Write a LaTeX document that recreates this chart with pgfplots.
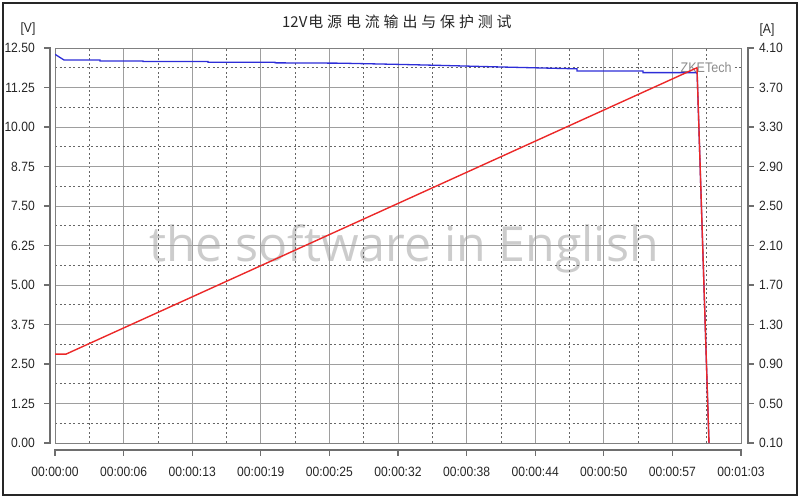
\documentclass[border=0pt]{standalone}
\usepackage{pgfplots}
\pgfplotsset{compat=1.18}
\usepackage{fontspec}
\setmainfont{Liberation Sans}
\newfontfamily\tickfont{Liberation Sans}[FakeStretch=0.9]
\newfontfamily\cjk{Noto Sans CJK SC}[LetterSpace=26]
\newfontfamily\cjkplain{Noto Sans CJK SC}
\newfontfamily\wm{Open Sans}
\definecolor{vblue}{RGB}{45,45,215}
\definecolor{ired}{RGB}{235,40,40}
\definecolor{axgray}{RGB}{110,110,110}
\begin{document}
\begin{tikzpicture}
\useasboundingbox (0,0) rectangle (800bp,498bp);
\draw[line width=2bp, black!85] (3bp,3bp) rectangle (797bp,495bp);
% watermark
\node[text=black!20, font=\wm\fontsize{48.5}{50}\selectfont, anchor=base, inner sep=0pt] at (404bp,236bp) {the software in English};
% title and unit labels
\node[anchor=west, text=black!85, inner sep=0pt] at (282bp,476.5bp) {{\cjkplain\fontsize{15}{15}\selectfont 12V}\hspace{1bp}{\cjk\fontsize{15}{15}\selectfont 电源电流输出与保护测试}};
\node[font=\tickfont\fontsize{13.5}{14}\selectfont, text=black!85, inner sep=0pt] at (28bp,469bp) {[V]};
\node[font=\tickfont\fontsize{13.5}{14}\selectfont, text=black!85, inner sep=0pt] at (767bp,468bp) {[A]};
\begin{axis}[
  at={(55bp,55bp)}, anchor=south west,
  width=686bp, height=395bp, scale only axis,
  xmin=0, xmax=63, ymin=0, ymax=12.5,
  xtick={0,6.3,12.6,18.9,25.2,31.5,37.8,44.1,50.4,56.7,63},
  xticklabels={00:00:00,00:00:06,00:00:13,00:00:19,00:00:25,00:00:32,00:00:38,00:00:44,00:00:50,00:00:57,00:01:03},
  ytick={0,1.25,2.5,3.75,5,6.25,7.5,8.75,10,11.25,12.5},
  yticklabels={0.00,1.25,2.50,3.75,5.00,6.25,7.50,8.75,10.00,11.25,12.50},
  minor xtick={3.15,9.45,15.75,22.05,28.35,34.65,40.95,47.25,53.55,59.85},
  minor ytick={0.625,1.875,3.125,4.375,5.625,6.875,8.125,9.375,10.625,11.875},
  grid=both,
  major grid style={draw=black!38, line width=0.9bp},
  minor grid style={draw=black!60, line width=0.8bp, dash pattern=on 2bp off 2.5bp},
  major tick length=0pt, minor tick length=0pt,
  axis line style={draw=black!50, line width=0.9bp},
  tick label style={font=\tickfont\fontsize{13.5}{14}\selectfont, text=black!85, inner sep=0pt},
  xticklabel style={yshift=-24bp},
  yticklabel style={xshift=-20bp},
]
\node[fill=white, inner sep=1bp, text=black!45, font=\tickfont\fontsize{14}{14}\selectfont] at (axis cs:59.8,11.87) {ZKETech};
\addplot[vblue, line width=1.3bp] coordinates {
(0,12.30) (0.83,12.12) (4.13,12.12) (4.13,12.09) (8.08,12.09) (8.08,12.07)
(14.05,12.07) (14.05,12.05) (20.20,12.05) (20.20,12.03) (26.17,12.02)
(31.69,11.98) (35.36,11.95) (40.87,11.90) (47.94,11.84) (47.94,11.77)
(54.00,11.77) (54.00,11.72) (58.87,11.72) (58.97,11.70) (60.06,0.00)
};
\end{axis}
\begin{axis}[
  at={(55bp,55bp)}, anchor=south west,
  width=686bp, height=395bp, scale only axis,
  xmin=0, xmax=63, ymin=0.1, ymax=4.1,
  axis x line=none, axis y line*=right,
  axis line style={draw=none},
  xtick=\empty,
  ytick={0.1,0.5,0.9,1.3,1.7,2.1,2.5,2.9,3.3,3.7,4.1},
  yticklabels={0.10,0.50,0.90,1.30,1.70,2.10,2.50,2.90,3.30,3.70,4.10},
  major tick length=0pt,
  tick label style={font=\tickfont\fontsize{13.5}{14}\selectfont, text=black!85, inner sep=0pt},
  yticklabel style={xshift=18bp},
]
\addplot[ired, line width=1.4bp] coordinates {
(0,1.00) (1.01,1.00) (58.96,3.90) (60.06,0.10)
};
\end{axis}
% separate axis lines with outward ticks
\draw[axgray, line width=1.3bp] (55bp,48bp) -- (741bp,48bp);
\foreach \i in {0,...,10} {
  \draw[axgray, line width=1.3bp] (55bp+68.6bp*\i,48.6bp) -- ++(0,-6.6bp);
  \draw[axgray, line width=1.3bp] (50.6bp,55bp+39.5bp*\i) -- ++(-6.6bp,0);
  \draw[axgray, line width=1.3bp] (747.4bp,55bp+39.5bp*\i) -- ++(6.6bp,0);
}
\draw[axgray, line width=1.3bp] (50bp,55bp) -- (50bp,450bp);
\draw[axgray, line width=1.3bp] (748bp,55bp) -- (748bp,450bp);
\end{tikzpicture}
\end{document}
